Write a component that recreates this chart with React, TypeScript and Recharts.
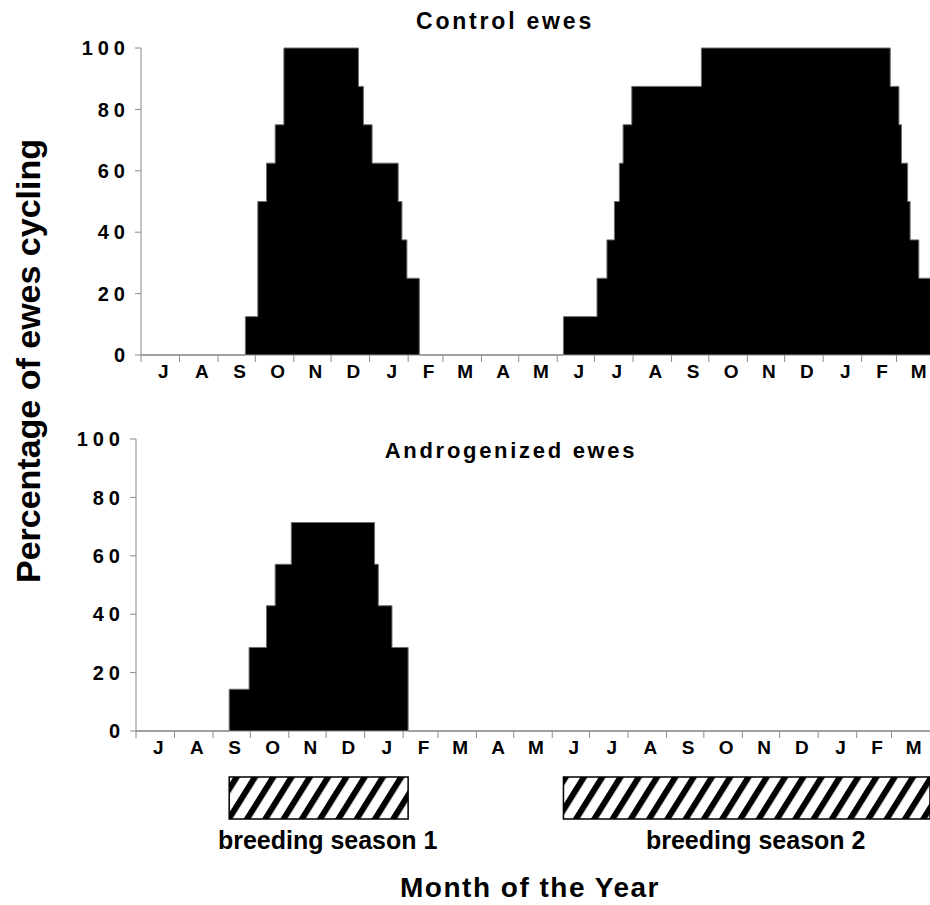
import React from "react";
import {
  Area,
  AreaChart,
  ComposedChart,
  ReferenceArea,
  XAxis,
  YAxis,
} from "recharts";

const FONT = "'Liberation Sans', Arial, Helvetica, sans-serif";

// months from July (year 1) to March (year 3)
const MONTH_LABELS = ["J", "A", "S", "O", "N", "D", "J", "F", "M", "A", "M", "J", "J", "A", "S", "O", "N", "D", "J", "F", "M"];
const MONTH_DAYS = [31, 31, 30, 31, 30, 31, 31, 28, 31, 30, 31, 30, 31, 31, 30, 31, 30, 31, 31, 28, 31];
const MONTH_STARTS = MONTH_DAYS.reduce<number[]>((acc, d, i) => {
  acc.push(i === 0 ? 0 : acc[i - 1] + MONTH_DAYS[i - 1]);
  return acc;
}, []);

const PCT_TICKS = [0, 20, 40, 60, 80, 100];

// day (from 1 July) at which each step starts, and % cycling from then on
const CONTROL_DAYS = [0, 84, 94, 101, 108, 115, 175, 179, 186, 207, 210, 214, 224, 340, 367, 375, 381, 385, 388, 395, 451, 603, 610, 612, 617, 619, 626, 635];
const CONTROL_PCT = [0, 12.5, 50, 62.5, 75, 100, 87.5, 75, 62.5, 50, 37.5, 25, 0, 12.5, 25, 37.5, 50, 62.5, 75, 87.5, 100, 87.5, 75, 62.5, 50, 37.5, 25, 25];

const ANDRO_DAYS = [0, 75, 91, 105, 112, 125, 192, 195, 206, 219, 639];
const ANDRO_PCT = [0, 14.3, 28.6, 42.9, 57.1, 71.4, 57.1, 42.9, 28.6, 0, 0];

const SEASON_LABELS = ["breeding season 1", "breeding season 2"];
const SEASON_START = [75, 344];
const SEASON_END = [219, 639];

const controlData = CONTROL_DAYS.map((day, i) => ({ day, pct: CONTROL_PCT[i] }));
const androData = ANDRO_DAYS.map((day, i) => ({ day, pct: ANDRO_PCT[i] }));

const GRAY = "#8a8a8a";

function monthTick(pxPerDay: number) {
  return (props: any) => {
    const { x, y, payload } = props;
    const idx = MONTH_STARTS.indexOf(payload.value);
    if (idx < 0) return <g />;
    const mid = (MONTH_DAYS[idx] / 2) * pxPerDay;
    return (
      <text
        x={x + mid + 3}
        y={y}
        dy="0.71em"
        textAnchor="middle"
        fill="#000"
        fontFamily={FONT}
        fontWeight={700}
        fontSize={19}
      >
        {MONTH_LABELS[idx]}
      </text>
    );
  };
}

const PctTick = (props: any) => {
  const { x, y, payload } = props;
  return (
    <text
      x={x}
      y={y}
      dy="0.36em"
      textAnchor="end"
      fill="#000"
      fontFamily={FONT}
      fontWeight={700}
      fontSize={20}
      style={{ letterSpacing: 5 }}
    >
      {payload.value}
    </text>
  );
};

function Panel({
  data,
  top,
  height,
  left,
  marginTop,
  maxDay,
}: {
  data: { day: number; pct: number }[];
  top: number;
  height: number;
  left: number;
  marginTop: number;
  maxDay: number;
}) {
  const pxPerDay = (930 - left) / maxDay;
  return (
    <div style={{ position: "absolute", left: 0, top }}>
      <AreaChart
        width={930}
        height={height}
        data={data}
        margin={{ top: marginTop, right: 0, bottom: 0, left: 0 }}
      >
        <XAxis
          dataKey="day"
          type="number"
          domain={[0, maxDay]}
          ticks={MONTH_STARTS}
          interval={0}
          height={35}
          stroke={GRAY}
          tickSize={7}
          tickMargin={3}
          tick={monthTick(pxPerDay)}
          allowDataOverflow
        />
        <YAxis
          domain={[0, 100]}
          ticks={PCT_TICKS}
          width={left}
          stroke={GRAY}
          tickSize={6}
          tickMargin={5}
          tick={PctTick}
          interval={0}
        />
        <Area
          type="stepAfter"
          dataKey="pct"
          stroke="#6f6f6f"
          strokeWidth={1}
          fill="#000"
          fillOpacity={1}
          isAnimationActive={false}
        />
      </AreaChart>
    </div>
  );
}

export default function App() {
  return (
    <div
      style={{
        position: "absolute",
        left: 0,
        top: 0,
        width: 930,
        height: 905,
        background: "#fff",
        fontFamily: FONT,
        overflow: "hidden",
      }}
    >
      <svg width={0} height={0} style={{ position: "absolute" }}>
        <defs>
          <pattern
            id="hatch"
            patternUnits="userSpaceOnUse"
            width={15.5}
            height={15.5}
            patternTransform="rotate(32)"
          >
            <rect x={0} y={0} width={15.5} height={15.5} fill="#fff" />
            <rect x={0} y={0} width={6} height={15.5} fill="#000" />
          </pattern>
        </defs>
      </svg>

      <Panel data={controlData} top={0} height={390} left={141} marginTop={48} maxDay={635} />
      <Panel data={androData} top={400} height={366} left={136} marginTop={39} maxDay={639} />

      {/* breeding season bars, on the same day scale as the lower panel */}
      <div style={{ position: "absolute", left: 0, top: 770 }}>
        <ComposedChart
          width={930}
          height={100}
          data={androData}
          margin={{ top: 7, right: 0, bottom: 51, left: 136 }}
        >
          <XAxis dataKey="day" type="number" domain={[0, 639]} hide />
          <YAxis domain={[0, 1]} hide allowDataOverflow />
          <Area
            dataKey="pct"
            stroke="none"
            fill="none"
            isAnimationActive={false}
          />
          {SEASON_LABELS.map((label, i) => (
            <ReferenceArea
              key={label}
              x1={SEASON_START[i]}
              x2={SEASON_END[i]}
              y1={0}
              y2={1}
              fill="url(#hatch)"
              fillOpacity={1}
              stroke="#000"
              strokeWidth={1.5}
              ifOverflow="visible"
              label={{
                value: label,
                position: "bottom",
                offset: 12,
                dx: 9,
                fill: "#000",
                fontSize: 25,
                fontWeight: 700,
                fontFamily: FONT,
              }}
            />
          ))}
        </ComposedChart>
      </div>

      <div
        style={{
          position: "absolute",
          left: 380,
          top: 8,
          width: 250,
          textAlign: "center",
          fontSize: 23,
          fontWeight: 700,
          letterSpacing: 2.8,
          color: "#000",
        }}
      >
        Control ewes
      </div>
      <div
        style={{
          position: "absolute",
          left: 361,
          top: 438,
          width: 300,
          textAlign: "center",
          fontSize: 22,
          fontWeight: 700,
          letterSpacing: 2.7,
          color: "#000",
        }}
      >
        Androgenized ewes
      </div>
      <div
        style={{
          position: "absolute",
          left: 28 - 250,
          top: 361 - 20,
          width: 500,
          height: 40,
          lineHeight: "40px",
          textAlign: "center",
          transform: "rotate(-90deg)",
          fontSize: 34,
          fontWeight: 700,
          color: "#000",
          whiteSpace: "nowrap",
        }}
      >
        Percentage of ewes cycling
      </div>
      <div
        style={{
          position: "absolute",
          left: 330,
          top: 872,
          width: 400,
          textAlign: "center",
          fontSize: 28,
          fontWeight: 700,
          letterSpacing: 1.5,
          color: "#000",
        }}
      >
        Month of the Year
      </div>
    </div>
  );
}
